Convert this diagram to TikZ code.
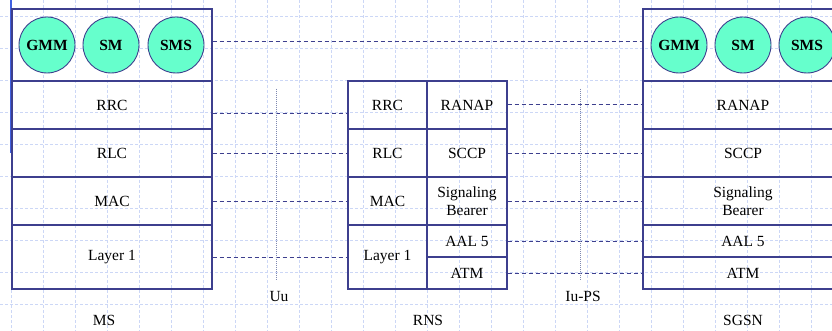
\documentclass[tikz,border=0pt]{standalone}
\usepackage{fontspec}
\setmainfont{Liberation Serif}
\definecolor{gridc}{HTML}{CCD7F6}
\definecolor{linec}{HTML}{3D3F8E}
\definecolor{circc}{HTML}{66FFCC}
\definecolor{bluel}{HTML}{4060E0}
\definecolor{dotc}{HTML}{7F88B0}
\begin{document}
\begin{tikzpicture}[x=1pt,y=-1pt,
  txt/.style={font=\fontsize{15.5}{19}\selectfont, inner sep=0pt},
  layerbox/.style={draw=linec, line width=1.1pt, inner sep=0pt, align=center,
     font=\fontsize{15.5}{19}\selectfont, minimum width=#1},
  layerbox/.default=200pt,
  proto/.style={circle, draw=linec, line width=0.9pt, fill=circc, minimum size=56pt,
     inner sep=0pt, font=\bfseries\fontsize{15.5}{19}\selectfont},
  peer/.style={draw=linec, line width=0.8pt, dash pattern=on 4pt off 3pt},
  iface/.style={draw=dotc, line width=0.8pt, dash pattern=on 1pt off 1pt},
  gridline/.style={draw=gridc, line width=0.9pt, dash pattern=on 3pt off 2pt}]
\useasboundingbox (0,0) rectangle (832,331);
\fill[white] (0,0) rectangle (832,331);
% background grid
\foreach \k in {0,...,25} \draw[gridline] (11+32*\k,0) -- (11+32*\k,331);
\foreach \k in {0,...,9} \draw[gridline] (0,16+32*\k) -- (832,16+32*\k);
% left margin line
\coordinate (mtop) at (11,0);
\coordinate (mbot) at (11,153);
\draw[bluel, line width=1.6pt] (mtop) -- (mbot);

% MS stack
\node[layerbox, minimum height=72pt] (msup) at (112,45) {};
\node[layerbox, minimum height=48pt] (msrrc) at (112,105) {RRC};
\node[layerbox, minimum height=48pt] (msrlc) at (112,153) {RLC};
\node[layerbox, minimum height=48pt] (msmac) at (112,201) {MAC};
\node[layerbox, minimum height=64pt] (msl1) at (112,257) {Layer 1};
\node[proto] (msgmm) at (47,45) {GMM};
\node[proto] (mssm) at (111,45) {SM};
\node[proto] (mssms) at (176,45) {SMS};

% RNS stack
\node[layerbox=79pt, minimum height=48pt] (rnsrrc) at (387.5,105) {RRC};
\node[layerbox=79pt, minimum height=48pt] (rnsrlc) at (387.5,153) {RLC};
\node[layerbox=79pt, minimum height=48pt] (rnsmac) at (387.5,201) {MAC};
\node[layerbox=79pt, minimum height=64pt] (rnsl1) at (387.5,257) {Layer 1};
\node[layerbox=80pt, minimum height=48pt] (rnsranap) at (467,105) {RANAP};
\node[layerbox=80pt, minimum height=48pt] (rnssccp) at (467,153) {SCCP};
\node[layerbox=80pt, minimum height=48pt] (rnssb) at (467,201) {Signaling\\[-1pt]Bearer};
\node[layerbox=80pt, minimum height=32pt] (rnsaal) at (467,241) {AAL 5};
\node[layerbox=80pt, minimum height=32pt] (rnsatm) at (467,273) {ATM};

% SGSN stack
\node[layerbox, minimum height=72pt] (sgup) at (743,45) {};
\node[layerbox, minimum height=48pt] (sgranap) at (743,105) {RANAP};
\node[layerbox, minimum height=48pt] (sgsccp) at (743,153) {SCCP};
\node[layerbox, minimum height=48pt] (sgsb) at (743,201) {Signaling\\[-1pt]Bearer};
\node[layerbox, minimum height=32pt] (sgaal) at (743,241) {AAL 5};
\node[layerbox, minimum height=32pt] (sgatm) at (743,273) {ATM};
\node[proto] (sggmm) at (679,45) {GMM};
\node[proto] (sgsm) at (743,45) {SM};
\node[proto] (sgsms) at (807,45) {SMS};

% peer connections
\draw[peer] (msup.east |- 0,41) -- (sgup.west |- 0,41);
\draw[peer] (msrrc.east |- 0,113) -- (rnsrrc.west |- 0,113);
\draw[peer] (msrlc.east) -- (rnsrlc.west);
\draw[peer] (msmac.east) -- (rnsmac.west);
\draw[peer] (msl1.east) -- (rnsl1.west);
\draw[peer] (rnsranap.east |- 0,104) -- (sgranap.west |- 0,104);
\draw[peer] (rnssccp.east) -- (sgsccp.west);
\draw[peer] (rnssb.east) -- (sgsb.west);
\draw[peer] (rnsaal.east) -- (sgaal.west);
\draw[peer] (rnsatm.east) -- (sgatm.west);

% interfaces
\coordinate (uutop) at (276,89);
\coordinate (uubot) at (276,280);
\coordinate (iutop) at (580,89);
\coordinate (iubot) at (580,280);
\draw[iface] (uutop) -- (uubot);
\draw[iface] (iutop) -- (iubot);
\node[txt] (uu) at (279,296) {Uu};
\node[txt] (iu) at (583,296) {Iu-PS};

% entity labels
\node[txt] (ms) at (104,320) {MS};
\node[txt] (rns) at (428,320) {RNS};
\node[txt] (sgsn) at (743,320) {SGSN};
\end{tikzpicture}
\end{document}
